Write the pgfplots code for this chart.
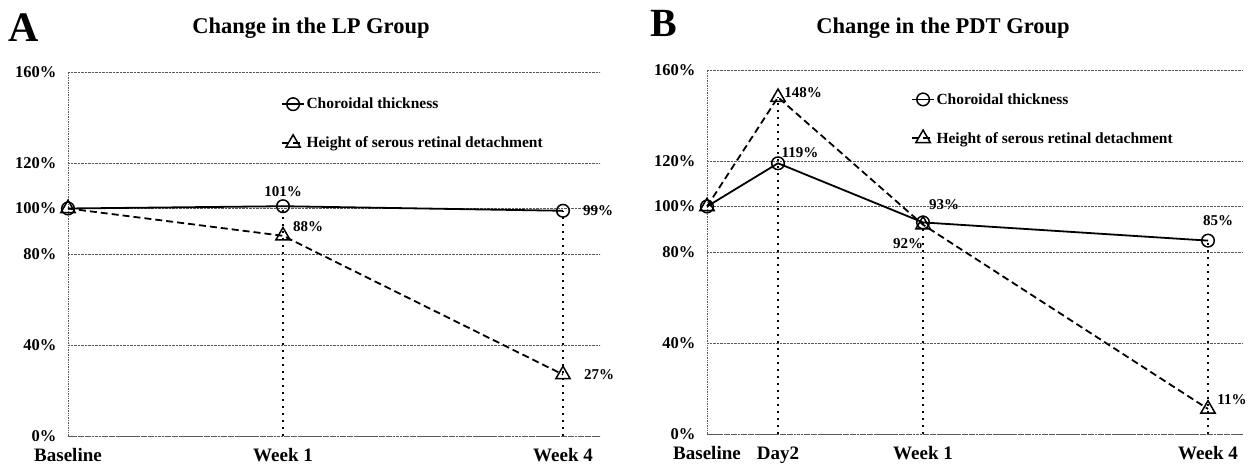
\documentclass[border=0pt]{standalone}
\usepackage{fontspec}
\setmainfont{Liberation Serif}
\usepackage{pgfplots}
\pgfplotsset{compat=1.18}

\pgfplotsset{
  panel/.style={
    scale only axis, height=364pt,
    ymin=0, ymax=160, xmin=0,
    axis x line*=bottom, axis y line*=left,
    axis line style={gray!70!black, densely dotted, line width=0.7pt, -},
    ytick={0,40,80,100,120,160},
    yticklabel={\fontsize{16.5}{19}\selectfont\bfseries\pgfmathprintnumber[assume math mode=true]{\tick}\%},
    ymajorgrids, grid style={gray!70!black, densely dotted, line width=0.7pt},
    major tick length=0pt,
    yticklabel style={font=\fontsize{16.5}{19}\selectfont\bfseries, xshift=-8pt},
    xticklabel style={font=\fontsize{19}{22}\selectfont\bfseries, yshift=-9pt},
    clip=false,
    legend style={draw=none, fill=none, inner sep=0pt,
      font=\fontsize{15.5}{18}\selectfont\bfseries,
      row sep=23pt, nodes={inner sep=1.5pt}},
    legend cell align=left,
    legend image code/.code={\draw[mark repeat=2,mark phase=2,##1] plot coordinates {(0pt,0pt) (11pt,0pt) (22pt,0pt)};},
  },
  drop/.style={ycomb, black, line width=1.8pt, dash pattern=on 1.6pt off 5.4pt, forget plot},
  cho/.style={black, line width=1.8pt, mark=o, mark size=6.3pt, mark options={solid, fill=white, line width=1.5pt}},
  srd/.style={black, line width=1.8pt, dash pattern=on 7pt off 4pt, mark=triangle, mark size=8.3pt, mark options={solid, fill=white, line width=1.5pt}},
}
\tikzset{lbl/.style={font=\fontsize{15}{18}\selectfont\bfseries, inner sep=0pt, anchor=center}}

\begin{document}
\begin{tikzpicture}[x=1pt,y=1pt]
\useasboundingbox (0,0) rectangle (1254,466);
\node[anchor=base west, font=\fontsize{42}{46}\selectfont\bfseries, inner sep=0pt] at (8,424) {A};
\node[anchor=base west, font=\fontsize{40}{46}\selectfont\bfseries, inner sep=0pt] at (650,429) {B};
\node[anchor=base, font=\fontsize{22.5}{26}\selectfont\bfseries, inner sep=0pt] at (311,432) {Change in the LP Group};
\node[anchor=base, font=\fontsize{22.5}{26}\selectfont\bfseries, inner sep=0pt] at (943,432) {Change in the PDT Group};

\begin{axis}[panel, at={(68pt,30pt)}, anchor=south west, width=532pt, xmax=532,
  xtick={0,215,495}, xticklabels={Baseline,Week 1,Week 4},
  legend style={at={(axis cs:213,149.3)}, anchor=north west}]
\addplot[drop] coordinates {(215,101) (495,99)};
\addplot[cho] coordinates {(0,100) (215,101) (495,99)};
\addlegendentry{Choroidal thickness}
\addplot[srd] coordinates {(0,100) (215,88) (495,27)};
\addlegendentry{Height of serous retinal detachment}
\node[lbl, yshift=15pt] at (axis cs:215,101) {101\%};
\node[lbl, xshift=25pt, yshift=9pt] at (axis cs:215,88) {88\%};
\node[lbl, xshift=35pt] at (axis cs:495,99) {99\%};
\node[lbl, xshift=36pt] at (axis cs:495,27) {27\%};
\end{axis}

\begin{axis}[panel, at={(707pt,32pt)}, anchor=south west, width=535pt, xmax=535,
  xtick={0,71,216,501}, xticklabels={Baseline,Day2,Week 1,Week 4},
  legend style={at={(axis cs:204,150.5)}, anchor=north west}]
\addplot[drop] coordinates {(71,148) (216,93) (501,85)};
\addplot[cho] coordinates {(0,100) (71,119) (216,93) (501,85)};
\addlegendentry{Choroidal thickness}
\addplot[srd] coordinates {(0,100) (71,148) (216,92) (501,11)};
\addlegendentry{Height of serous retinal detachment}
\node[lbl, xshift=25pt, yshift=5pt] at (axis cs:71,148) {148\%};
\node[lbl, xshift=22pt, yshift=11pt] at (axis cs:71,119) {119\%};
\node[lbl, xshift=21pt, yshift=18pt] at (axis cs:216,93) {93\%};
\node[lbl, xshift=-15pt, yshift=-19pt] at (axis cs:216,92) {92\%};
\node[lbl, xshift=10pt, yshift=20pt] at (axis cs:501,85) {85\%};
\node[lbl, xshift=24pt, yshift=9pt] at (axis cs:501,11) {11\%};
\end{axis}
\end{tikzpicture}
\end{document}
